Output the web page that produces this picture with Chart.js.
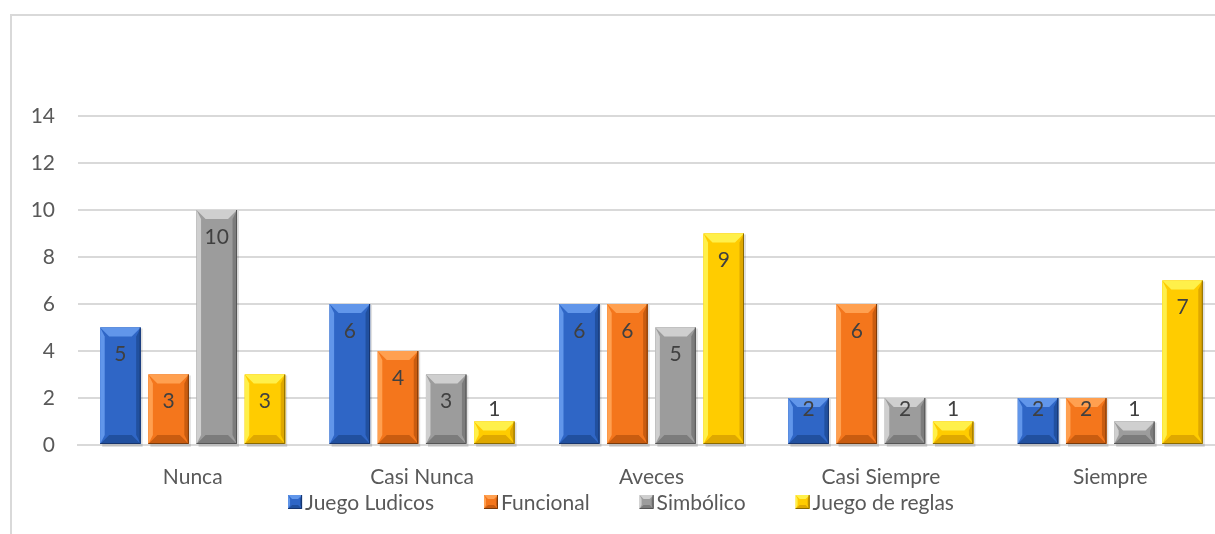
<!DOCTYPE html>
<html>
<head>
<meta charset="utf-8">
<script src="https://cdn.jsdelivr.net/npm/chart.js@4.4.1/dist/chart.umd.min.js"></script>
<style>
    html, body { margin: 0; padding: 0; background: #fff; overflow: hidden; }
    .frame {
        position: absolute;
        left: 10px;
        top: 14px;
        width: 1230px;
        height: 530px;
        border: 2px solid #d9d9d9;
        background: #fff;
    }
    .frame canvas { display: block; }
</style>
</head>
<body>
<div class="frame">
    <canvas id="chart" width="1230" height="530"></canvas>
</div>
<script>
// Chart data
const categories = ['Nunca', 'Casi Nunca', 'Aveces', 'Casi Siempre', 'Siempre'];
const seriesNames = ['Juego Ludicos', 'Funcional', 'Simbólico', 'Juego de reglas'];
const juegoLudicos = [5, 6, 6, 2, 2];
const funcional = [3, 4, 6, 6, 2];
const simbolico = [10, 3, 5, 2, 1];
const juegoReglas = [3, 1, 9, 1, 7];
const yTicks = [0, 2, 4, 6, 8, 10, 12, 14];

// Colours per series: body, light bevel, dark bevel, outline
const shades = [
    { body: '#2f66c6', light: '#6196ea', dark: '#21509f', line: '#17356e' },
    { body: '#f4761c', light: '#ffa050', dark: '#c95c10', line: '#7a3a0a' },
    { body: '#9c9c9c', light: '#cfcfcf', dark: '#7c7c7c', line: '#555555' },
    { body: '#ffcc00', light: '#fff04a', dark: '#dfa800', line: '#8a6a00' }
];

const FONT = 'Lato, "Open Sans", sans-serif';
const TEXT_SIZE = 21;

function poly(ctx, pts, color) {
    ctx.beginPath();
    ctx.moveTo(pts[0][0], pts[0][1]);
    for (let k = 1; k < pts.length; k++) ctx.lineTo(pts[k][0], pts[k][1]);
    ctx.closePath();
    ctx.fillStyle = color;
    ctx.fill();
}

function bevelBox(ctx, l, r, t, b, s, size) {
    const bv = Math.min(size, (b - t) / 2.5);
    ctx.fillStyle = s.body;
    ctx.fillRect(l, t, r - l, b - t);
    poly(ctx, [[l, t], [r, t], [r - bv, t + bv], [l + bv, t + bv]], s.light);
    poly(ctx, [[l, b], [r, b], [r - bv, b - bv], [l + bv, b - bv]], s.dark);
    poly(ctx, [[l, t], [l + bv * 0.5, t + bv], [l + bv * 0.5, b - bv], [l, b]], s.light);
    poly(ctx, [[r, t], [r - bv * 0.5, t + bv], [r - bv * 0.5, b - bv], [r, b]], s.dark);
    ctx.strokeStyle = s.line;
    ctx.lineWidth = 1;
    ctx.beginPath();
    ctx.moveTo(r - 0.5, t);
    ctx.lineTo(r - 0.5, b - 0.5);
    ctx.lineTo(l, b - 0.5);
    ctx.stroke();
}

function eachBar(chart, fn) {
    chart.data.datasets.forEach((ds, i) => {
        const meta = chart.getDatasetMeta(i);
        if (meta.hidden) return;
        meta.data.forEach((bar, j) => {
            const p = bar.getProps(['x', 'y', 'base', 'width'], true);
            fn(p.x - p.width / 2, p.x + p.width / 2, p.y, p.base, i, j, ds);
        });
    });
}

// Soft shadow behind bars
const shadowPlugin = {
    id: 'barShadow',
    beforeDatasetsDraw(chart) {
        const ctx = chart.ctx;
        ctx.save();
        eachBar(chart, (l, r, t, b) => {
            ctx.fillStyle = 'rgba(0,0,0,0.12)';
            ctx.fillRect(l + 2, t + 1, r - l, b - t + 2);
        });
        ctx.restore();
    }
};

// Bevel edges and value labels
const bevelPlugin = {
    id: 'bevel',
    afterDatasetsDraw(chart) {
        const ctx = chart.ctx;
        ctx.save();
        eachBar(chart, (l, r, t, b, i, j, ds) => {
            bevelBox(ctx, l, r, t, b, shades[i], 9);

            // value label
            const ly = Math.min(t + 27, b - 35);
            ctx.fillStyle = '#404040';
            ctx.font = TEXT_SIZE + 'px ' + FONT;
            ctx.textAlign = 'center';
            ctx.textBaseline = 'middle';
            ctx.fillText(String(ds.data[j]), (l + r) / 2, ly);
        });
        ctx.restore();
    }
};

// Legend under the category labels, Excel style
const legendPlugin = {
    id: 'bottomLegend',
    afterDraw(chart) {
        const ctx = chart.ctx;
        const box = 14, textGap = 3, itemGap = 50;
        ctx.save();
        ctx.font = TEXT_SIZE + 'px ' + FONT;
        const widths = seriesNames.map(n => ctx.measureText(n).width);
        const total = widths.reduce((a, w) => a + box + textGap + w, 0) + itemGap * (seriesNames.length - 1);
        let x = chart.width / 2 - 6 - total / 2;
        const y = chart.scales.x.top + 57;
        ctx.textAlign = 'left';
        ctx.textBaseline = 'middle';
        seriesNames.forEach((name, i) => {
            bevelBox(ctx, x, x + box, y - box / 2, y + box / 2, shades[i], 4);
            ctx.fillStyle = '#595959';
            ctx.fillText(name, x + box + textGap, y + 1);
            x += box + textGap + widths[i] + itemGap;
        });
        ctx.restore();
    }
};

const datasets = [juegoLudicos, funcional, simbolico, juegoReglas].map((values, i) => ({
    label: seriesNames[i],
    data: values,
    backgroundColor: shades[i].body,
    borderWidth: 0,
    categoryPercentage: 0.84,
    barPercentage: 0.84
}));

const chart = new Chart(document.getElementById('chart').getContext('2d'), {
    type: 'bar',
    data: {
        labels: categories,
        datasets: datasets
    },
    options: {
        responsive: false,
        animation: false,
        layout: {
            padding: { top: 100, left: 0, right: 17, bottom: 53 }
        },
        scales: {
            x: {
                grid: { display: false, drawTicks: false },
                border: { color: '#d9d9d9', width: 2 },
                ticks: {
                    color: '#595959',
                    font: { family: FONT, size: TEXT_SIZE },
                    padding: 20
                },
                afterFit: axis => { axis.height = 48; }
            },
            y: {
                min: 0,
                max: 14,
                afterBuildTicks: axis => {
                    axis.ticks = yTicks.map(v => ({ value: v }));
                },
                grid: { color: '#d9d9d9', lineWidth: 2, drawTicks: false },
                border: { display: false },
                ticks: {
                    color: '#595959',
                    font: { family: FONT, size: TEXT_SIZE },
                    padding: 23
                },
                afterFit: axis => { axis.width = 66; }
            }
        },
        plugins: {
            legend: { display: false },
            tooltip: { enabled: false }
        }
    },
    plugins: [shadowPlugin, bevelPlugin, legendPlugin]
});
</script>
</body>
</html>
